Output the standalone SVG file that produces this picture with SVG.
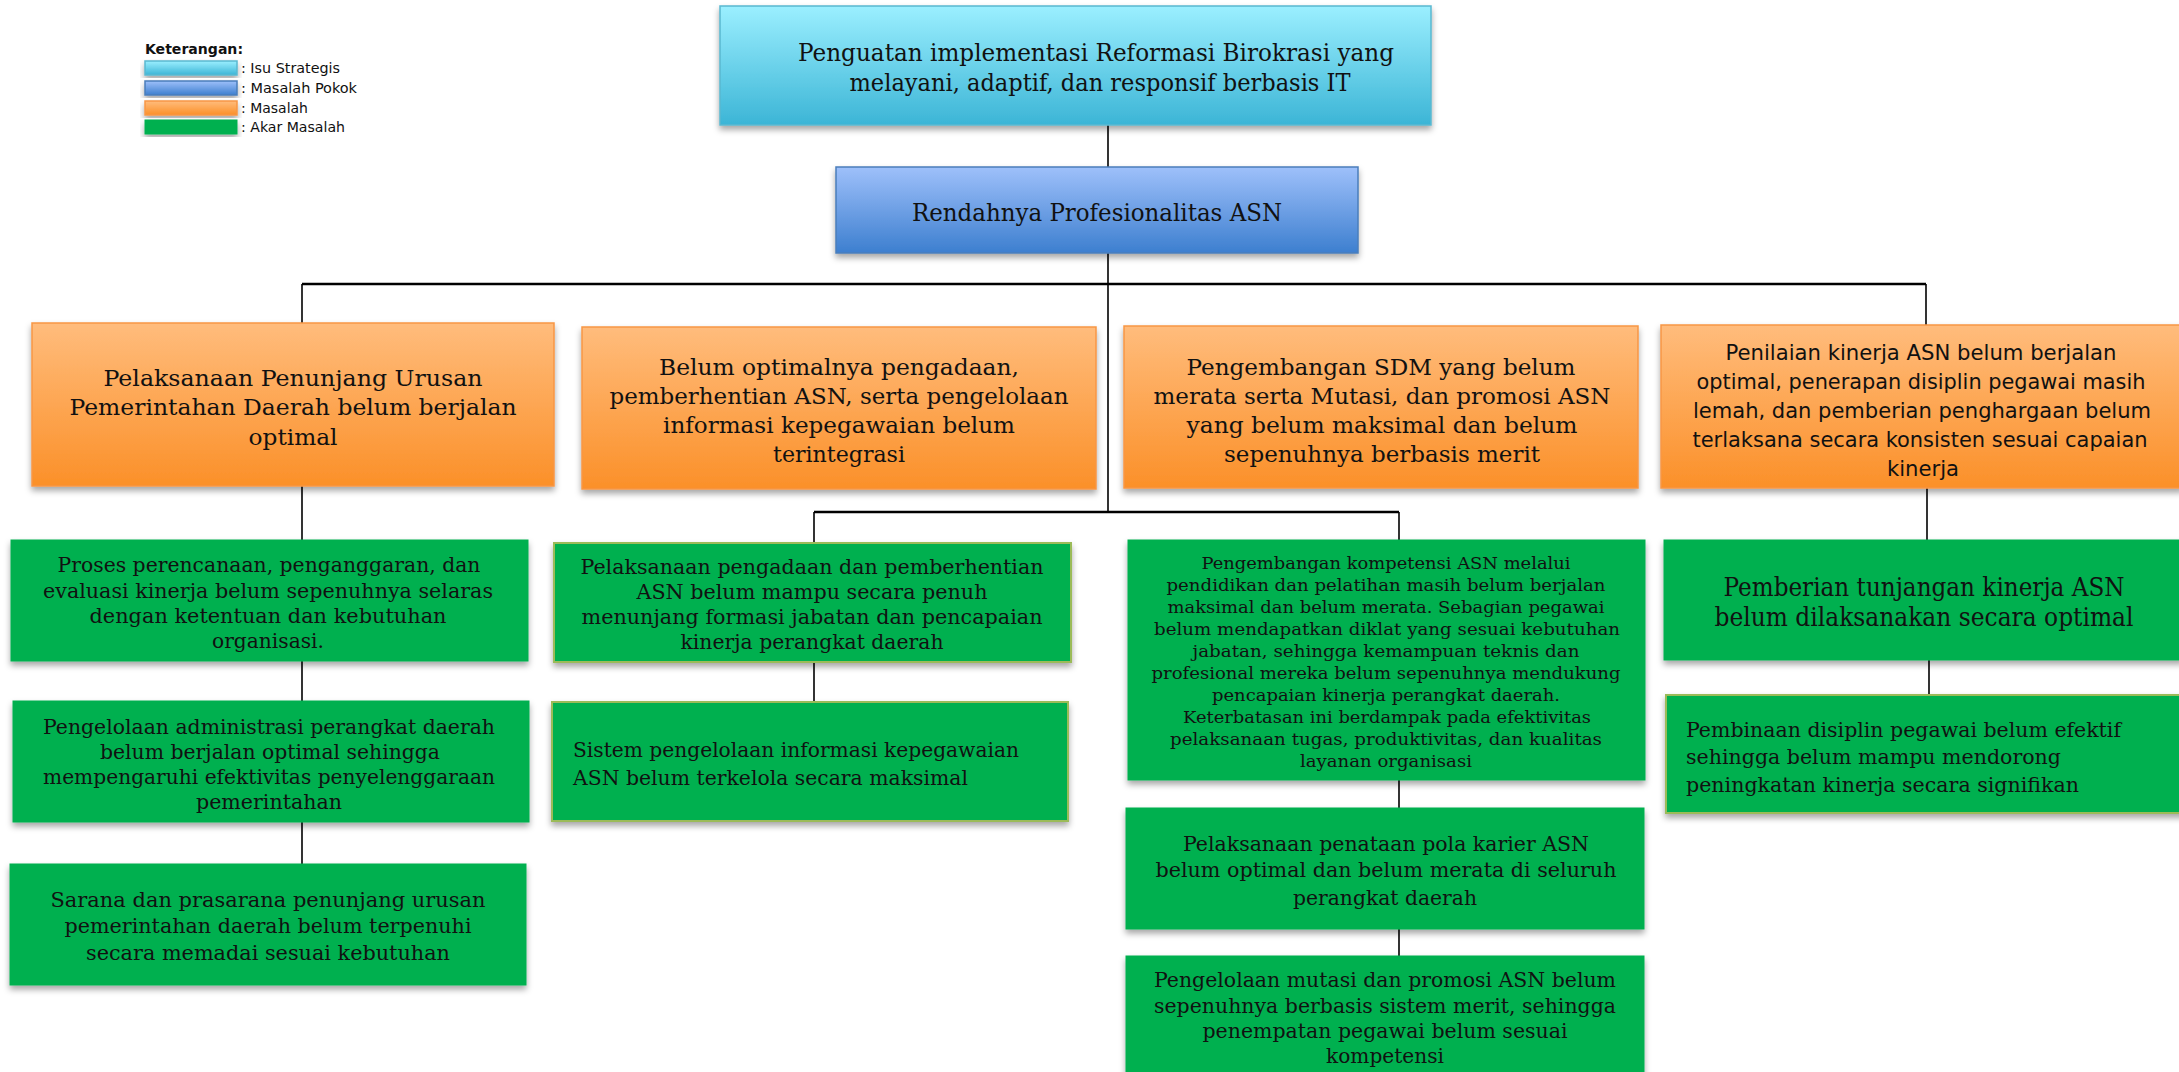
<svg xmlns="http://www.w3.org/2000/svg" width="2179" height="1072" viewBox="0 0 2179 1072">
<defs>
<linearGradient id="gIsu" x1="0" y1="0" x2="0" y2="1"><stop offset="0" stop-color="#9befff"/><stop offset="1" stop-color="#3cb5d6"/></linearGradient>
<linearGradient id="gPokok" x1="0" y1="0" x2="0" y2="1"><stop offset="0" stop-color="#9ec0fa"/><stop offset="1" stop-color="#3d7fcf"/></linearGradient>
<linearGradient id="gMasalah" x1="0" y1="0" x2="0" y2="1"><stop offset="0" stop-color="#ffbc7c"/><stop offset="1" stop-color="#fb9029"/></linearGradient>
<filter id="sh" x="-5%" y="-10%" width="110%" height="130%"><feDropShadow dx="0" dy="4" stdDeviation="3" flood-color="#000" flood-opacity="0.35"/></filter>
</defs>
<style>
.isu{fill:url(#gIsu);stroke:#5ab8d0;stroke-width:1.5;filter:url(#sh)}
.pokok{fill:url(#gPokok);stroke:#4a7ebb;stroke-width:1.5;filter:url(#sh)}
.mas{fill:url(#gMasalah);stroke:#f79646;stroke-width:1.5;filter:url(#sh)}
.akar{fill:#00b050;stroke:#00b050;stroke-width:1;filter:url(#sh)}
.akar2{fill:#00b050;stroke:#9bbb59;stroke-width:2;filter:url(#sh)}
.sw{filter:url(#sh)}
.t{font-family:"DejaVu Serif","Liberation Serif",serif;fill:#111;text-anchor:middle}
.tl{font-family:"DejaVu Serif","Liberation Serif",serif;fill:#111;text-anchor:start}
.s{font-family:"DejaVu Sans Condensed","DejaVu Sans","Liberation Sans",sans-serif;fill:#111;text-anchor:middle}
.lg{font-family:"DejaVu Sans Condensed","Liberation Sans",sans-serif;fill:#111;font-size:14px}
.f24{font-size:24px}.f22{font-size:22px}.f20{font-size:20px}.f17{font-size:17px}.f26{font-size:26px}
.c{fill:none;stroke:#000;stroke-width:1.6}
.h{fill:none;stroke:#000;stroke-width:2.4}
</style>

<g id="legend">
<text class="lg" x="145" y="54" font-weight="bold" textLength="98" lengthAdjust="spacingAndGlyphs">Keterangan:</text>
<rect class="isu" x="145" y="61" width="92" height="14"/>
<rect class="pokok" x="145" y="81" width="92" height="14"/>
<rect class="mas" x="145" y="101" width="92" height="14"/>
<rect class="akar" x="145" y="120" width="92" height="14"/>
<text class="lg" x="241" y="73" textLength="99" lengthAdjust="spacingAndGlyphs">: Isu Strategis</text>
<text class="lg" x="241" y="93" textLength="116" lengthAdjust="spacingAndGlyphs">: Masalah Pokok</text>
<text class="lg" x="241" y="113" textLength="67" lengthAdjust="spacingAndGlyphs">: Masalah</text>
<text class="lg" x="241" y="132" textLength="104" lengthAdjust="spacingAndGlyphs">: Akar Masalah</text>
</g>

<g id="connectors">
<path class="c" d="M1108 125V167"/>
<path class="c" d="M1108 253V512"/>
<path class="h" d="M302 284H1926"/>
<path class="c" d="M302 284V323"/>
<path class="c" d="M1926 284V325"/>
<path class="c" d="M302 486V540"/>
<path class="c" d="M302 661V701"/>
<path class="c" d="M302 822V864"/>
<path class="h" d="M814 512H1399"/>
<path class="c" d="M814 512V543"/>
<path class="c" d="M1399 512V540"/>
<path class="c" d="M814 662V702"/>
<path class="c" d="M1399 780V808"/>
<path class="c" d="M1399 929V956"/>
<path class="c" d="M1927 488V540"/>
<path class="c" d="M1929 660V695"/>
</g>

<g id="isu-strategis">
<rect class="isu" x="720" y="6" width="711" height="119"/>
<text class="t f24" x="1096" y="61" textLength="596" lengthAdjust="spacingAndGlyphs">Penguatan implementasi Reformasi Birokrasi yang</text>
<text class="t f24" x="1100" y="91" textLength="501" lengthAdjust="spacingAndGlyphs">melayani, adaptif, dan responsif berbasis IT</text>
</g>

<g id="masalah-pokok">
<rect class="pokok" x="836" y="167" width="522" height="86"/>
<text class="t f24" x="1097" y="221" textLength="370" lengthAdjust="spacingAndGlyphs">Rendahnya Profesionalitas ASN</text>
</g>

<g id="masalah-1">
<rect class="mas" x="32" y="323" width="522" height="163"/>
<text class="t f22" x="293" y="386" textLength="379" lengthAdjust="spacingAndGlyphs">Pelaksanaan Penunjang Urusan</text>
<text class="t f22" x="293" y="415" textLength="447" lengthAdjust="spacingAndGlyphs">Pemerintahan Daerah belum berjalan</text>
<text class="t f22" x="293" y="445" textLength="89" lengthAdjust="spacingAndGlyphs">optimal</text>
</g>

<g id="masalah-2">
<rect class="mas" x="582" y="327" width="514" height="162"/>
<text class="t f22" x="839" y="375" textLength="360" lengthAdjust="spacingAndGlyphs">Belum optimalnya pengadaan,</text>
<text class="t f22" x="839" y="404" textLength="459" lengthAdjust="spacingAndGlyphs">pemberhentian ASN, serta pengelolaan</text>
<text class="t f22" x="839" y="433" textLength="352" lengthAdjust="spacingAndGlyphs">informasi kepegawaian belum</text>
<text class="t f22" x="839" y="462" textLength="132" lengthAdjust="spacingAndGlyphs">terintegrasi</text>
</g>

<g id="masalah-3">
<rect class="mas" x="1124" y="326" width="514" height="162"/>
<text class="t f22" x="1381" y="375" textLength="389" lengthAdjust="spacingAndGlyphs">Pengembangan SDM yang belum</text>
<text class="t f22" x="1382" y="404" textLength="457" lengthAdjust="spacingAndGlyphs">merata serta Mutasi, dan promosi ASN</text>
<text class="t f22" x="1382" y="433" textLength="391" lengthAdjust="spacingAndGlyphs">yang belum maksimal dan belum</text>
<text class="t f22" x="1382" y="462" textLength="316" lengthAdjust="spacingAndGlyphs">sepenuhnya berbasis merit</text>
</g>

<g id="masalah-4">
<rect class="mas" x="1661" y="325" width="522" height="163"/>
<text class="s f22" x="1921" y="360" textLength="391" lengthAdjust="spacingAndGlyphs">Penilaian kinerja ASN belum berjalan</text>
<text class="s f22" x="1921" y="389" textLength="449" lengthAdjust="spacingAndGlyphs">optimal, penerapan disiplin pegawai masih</text>
<text class="s f22" x="1922" y="418" textLength="458" lengthAdjust="spacingAndGlyphs">lemah, dan pemberian penghargaan belum</text>
<text class="s f22" x="1920" y="447" textLength="455" lengthAdjust="spacingAndGlyphs">terlaksana secara konsisten sesuai capaian</text>
<text class="s f22" x="1923" y="476" textLength="72" lengthAdjust="spacingAndGlyphs">kinerja</text>
</g>

<g id="akar-a1">
<rect class="akar" x="11" y="540" width="517" height="121"/>
<text class="t f20" x="269" y="572" textLength="423" lengthAdjust="spacingAndGlyphs">Proses perencanaan, penganggaran, dan</text>
<text class="t f20" x="268" y="598" textLength="450" lengthAdjust="spacingAndGlyphs">evaluasi kinerja belum sepenuhnya selaras</text>
<text class="t f20" x="268" y="623" textLength="357" lengthAdjust="spacingAndGlyphs">dengan ketentuan dan kebutuhan</text>
<text class="t f20" x="268" y="648" textLength="112" lengthAdjust="spacingAndGlyphs">organisasi.</text>
</g>

<g id="akar-a2">
<rect class="akar" x="13" y="701" width="516" height="121"/>
<text class="t f20" x="269" y="734" textLength="452" lengthAdjust="spacingAndGlyphs">Pengelolaan administrasi perangkat daerah</text>
<text class="t f20" x="270" y="759" textLength="340" lengthAdjust="spacingAndGlyphs">belum berjalan optimal sehingga</text>
<text class="t f20" x="269" y="784" textLength="452" lengthAdjust="spacingAndGlyphs">mempengaruhi efektivitas penyelenggaraan</text>
<text class="t f20" x="269" y="809" textLength="146" lengthAdjust="spacingAndGlyphs">pemerintahan</text>
</g>

<g id="akar-a3">
<rect class="akar" x="10" y="864" width="516" height="121"/>
<text class="t f20" x="268" y="907" textLength="435" lengthAdjust="spacingAndGlyphs">Sarana dan prasarana penunjang urusan</text>
<text class="t f20" x="268" y="933" textLength="407" lengthAdjust="spacingAndGlyphs">pemerintahan daerah belum terpenuhi</text>
<text class="t f20" x="268" y="960" textLength="364" lengthAdjust="spacingAndGlyphs">secara memadai sesuai kebutuhan</text>
</g>

<g id="akar-b1">
<rect class="akar2" x="554" y="543" width="517" height="119"/>
<text class="t f20" x="812" y="574" textLength="463" lengthAdjust="spacingAndGlyphs">Pelaksanaan pengadaan dan pemberhentian</text>
<text class="t f20" x="812" y="599" textLength="351" lengthAdjust="spacingAndGlyphs">ASN belum mampu secara penuh</text>
<text class="t f20" x="812" y="624" textLength="461" lengthAdjust="spacingAndGlyphs">menunjang formasi jabatan dan pencapaian</text>
<text class="t f20" x="812" y="649" textLength="263" lengthAdjust="spacingAndGlyphs">kinerja perangkat daerah</text>
</g>

<g id="akar-b2">
<rect class="akar2" x="552" y="702" width="516" height="119"/>
<text class="tl f20" x="573" y="757" textLength="446" lengthAdjust="spacingAndGlyphs">Sistem pengelolaan informasi kepegawaian</text>
<text class="tl f20" x="573" y="785" textLength="395" lengthAdjust="spacingAndGlyphs">ASN belum terkelola secara maksimal</text>
</g>

<g id="akar-c1">
<rect class="akar" x="1128" y="540" width="517" height="240"/>
<text class="t f17" x="1386" y="569" textLength="369" lengthAdjust="spacingAndGlyphs">Pengembangan kompetensi ASN melalui</text>
<text class="t f17" x="1386" y="591" textLength="439" lengthAdjust="spacingAndGlyphs">pendidikan dan pelatihan masih belum berjalan</text>
<text class="t f17" x="1386" y="613" textLength="437" lengthAdjust="spacingAndGlyphs">maksimal dan belum merata. Sebagian pegawai</text>
<text class="t f17" x="1387" y="635" textLength="466" lengthAdjust="spacingAndGlyphs">belum mendapatkan diklat yang sesuai kebutuhan</text>
<text class="t f17" x="1386" y="657" textLength="387" lengthAdjust="spacingAndGlyphs">jabatan, sehingga kemampuan teknis dan</text>
<text class="t f17" x="1386" y="679" textLength="469" lengthAdjust="spacingAndGlyphs">profesional mereka belum sepenuhnya mendukung</text>
<text class="t f17" x="1386" y="701" textLength="348" lengthAdjust="spacingAndGlyphs">pencapaian kinerja perangkat daerah.</text>
<text class="t f17" x="1387" y="723" textLength="408" lengthAdjust="spacingAndGlyphs">Keterbatasan ini berdampak pada efektivitas</text>
<text class="t f17" x="1386" y="745" textLength="432" lengthAdjust="spacingAndGlyphs">pelaksanaan tugas, produktivitas, dan kualitas</text>
<text class="t f17" x="1386" y="767" textLength="172" lengthAdjust="spacingAndGlyphs">layanan organisasi</text>
</g>

<g id="akar-c2">
<rect class="akar" x="1126" y="808" width="518" height="121"/>
<text class="t f20" x="1386" y="851" textLength="406" lengthAdjust="spacingAndGlyphs">Pelaksanaan penataan pola karier ASN</text>
<text class="t f20" x="1386" y="877" textLength="461" lengthAdjust="spacingAndGlyphs">belum optimal dan belum merata di seluruh</text>
<text class="t f20" x="1385" y="905" textLength="184" lengthAdjust="spacingAndGlyphs">perangkat daerah</text>
</g>

<g id="akar-c3">
<rect class="akar" x="1126" y="956" width="518" height="130"/>
<text class="t f20" x="1385" y="987" textLength="462" lengthAdjust="spacingAndGlyphs">Pengelolaan mutasi dan promosi ASN belum</text>
<text class="t f20" x="1385" y="1013" textLength="462" lengthAdjust="spacingAndGlyphs">sepenuhnya berbasis sistem merit, sehingga</text>
<text class="t f20" x="1385" y="1038" textLength="365" lengthAdjust="spacingAndGlyphs">penempatan pegawai belum sesuai</text>
<text class="t f20" x="1385" y="1063" textLength="118" lengthAdjust="spacingAndGlyphs">kompetensi</text>
</g>

<g id="akar-d1">
<rect class="akar" x="1664" y="540" width="520" height="120"/>
<text class="t f26" x="1924" y="596" textLength="401" lengthAdjust="spacingAndGlyphs">Pemberian tunjangan kinerja ASN</text>
<text class="t f26" x="1924" y="626" textLength="419" lengthAdjust="spacingAndGlyphs">belum dilaksanakan secara optimal</text>
</g>

<g id="akar-d2">
<rect class="akar2" x="1666" y="695" width="520" height="118"/>
<text class="tl f20" x="1686" y="737" textLength="435" lengthAdjust="spacingAndGlyphs">Pembinaan disiplin pegawai belum efektif</text>
<text class="tl f20" x="1686" y="764" textLength="375" lengthAdjust="spacingAndGlyphs">sehingga belum mampu mendorong</text>
<text class="tl f20" x="1686" y="792" textLength="393" lengthAdjust="spacingAndGlyphs">peningkatan kinerja secara signifikan</text>
</g>
</svg>
